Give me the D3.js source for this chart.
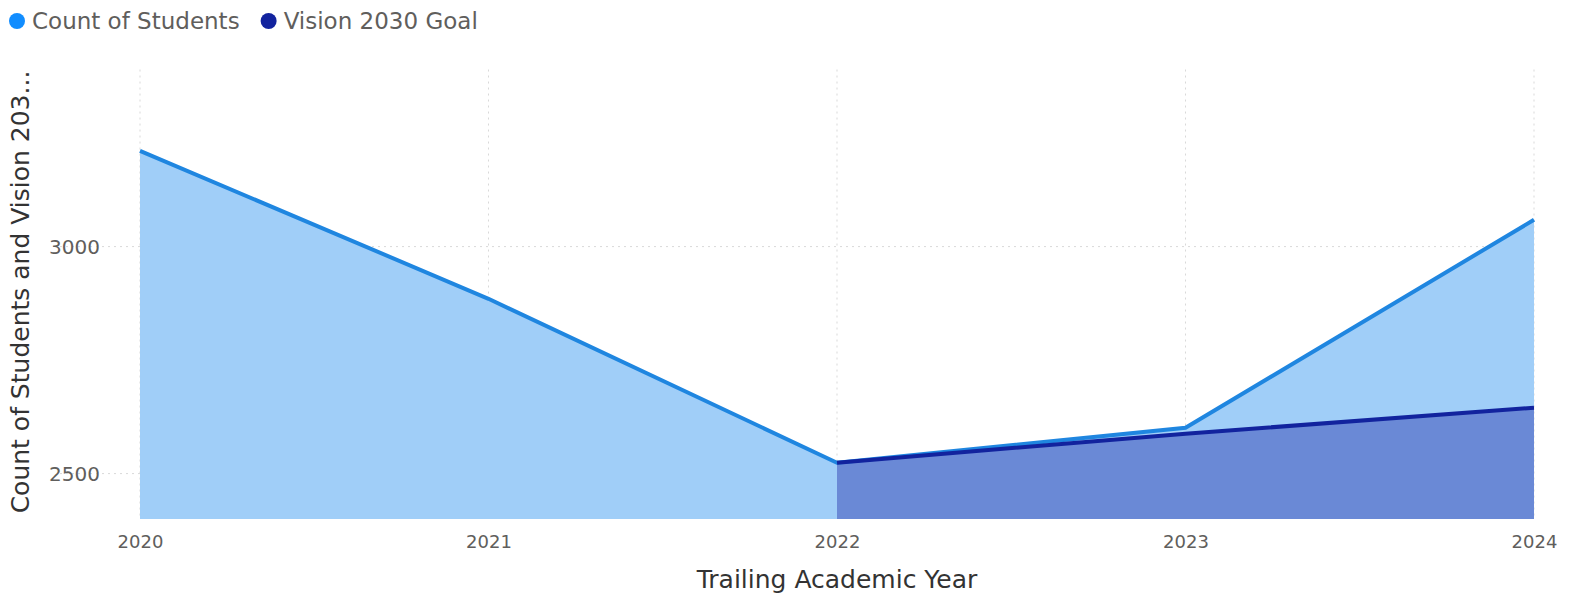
<!DOCTYPE html>
<html>
<head>
    <meta charset="utf-8">
    <title>Count of Students and Vision 2030 Goal</title>
    <script src="https://d3js.org/d3.v7.min.js"></script>
    <style>
        body { margin: 0; background: #fff; }
        text { font-family: "DejaVu Sans", sans-serif; }
        .tick text { fill: #605e5c; font-size: 18px; }
        .y-ticks .tick text { font-size: 20px; }
        .legend-text { fill: #605e5c; font-size: 23px; }
        .axis-title { fill: #333; font-size: 25px; }
    </style>
</head>
<body>
    <div id="chart"></div>
    <script>
	const years = ['2020', '2021', '2022', '2023', '2024'];
	const students = [3211, 2885, 2524, 2601, 3059];
	const goal = [null, null, 2524, 2588, 2645];
	const yTicks = [2500, 3000];

	const width = 1572, height = 602;
	const margin = {top: 65, right: 38, bottom: 83, left: 140};

	const x = d3.scalePoint()
	    .domain(years)
	    .range([margin.left, width - margin.right]);

	const y = d3.scaleLinear()
	    .domain([2400, 3400])
	    .range([height - margin.bottom, margin.top]);

	const svg = d3.select("#chart").append("svg")
	    .attr("width", width)
	    .attr("height", height);

	// gridlines
	svg.append("g")
	    .selectAll("line")
	    .data(yTicks)
	    .enter().append("line")
	        .attr("x1", margin.left - 80)
	        .attr("x2", width - margin.right)
	        .attr("y1", d => y(d))
	        .attr("y2", d => y(d))
	        .attr("stroke", "#d9d9d9")
	        .attr("stroke-dasharray", "2,4");

	svg.append("g")
	    .selectAll("line")
	    .data(years)
	    .enter().append("line")
	        .attr("x1", d => x(d))
	        .attr("x2", d => x(d))
	        .attr("y1", y(3390))
	        .attr("y2", y(2400))
	        .attr("stroke", "#d9d9d9")
	        .attr("stroke-dasharray", "2,4");

	const rowsA = years.map((d, i) => ({year: d, v: students[i]}));
	const rowsB = years.map((d, i) => ({year: d, v: goal[i]})).filter(d => d.v != null);

	const area = d3.area()
	    .x(d => x(d.year))
	    .y0(y(2400))
	    .y1(d => y(d.v));
	const line = d3.line()
	    .x(d => x(d.year))
	    .y(d => y(d.v));

	svg.append("path").datum(rowsA)
	    .attr("d", area)
	    .attr("fill", "#a0cef8");
	svg.append("path").datum(rowsB)
	    .attr("d", area)
	    .attr("fill", "#6a89d6");

	svg.append("path").datum(rowsA)
	    .attr("d", line)
	    .attr("fill", "none")
	    .attr("stroke", "#1f86e0")
	    .attr("stroke-width", 4);
	svg.append("path").datum(rowsB)
	    .attr("d", line)
	    .attr("fill", "none")
	    .attr("stroke", "#12239e")
	    .attr("stroke-width", 4);

	// axes
	const xAxis = svg.append("g")
	    .attr("transform", `translate(0,${height - margin.bottom})`)
	    .call(d3.axisBottom(x).tickSize(0).tickPadding(16));
	xAxis.select(".domain").remove();

	const yAxis = svg.append("g")
	    .attr("class", "y-ticks")
	    .attr("transform", `translate(${margin.left - 40},0)`)
	    .call(d3.axisLeft(y).tickValues(yTicks).tickFormat(d3.format("d")).tickSize(0).tickPadding(0));
	yAxis.select(".domain").remove();

	svg.append("text")
	    .attr("class", "axis-title")
	    .attr("x", x('2022'))
	    .attr("y", 588)
	    .attr("text-anchor", "middle")
	    .text("Trailing Academic Year");

	svg.append("text")
	    .attr("class", "axis-title")
	    .attr("transform", "rotate(-90)")
	    .attr("x", -(margin.top + height - margin.bottom) / 2)
	    .attr("y", 29)
	    .attr("text-anchor", "middle")
	    .text("Count of Students and Vision 203...");

	// legend
	const legend = [{name: "Count of Students", color: "#118dff"}, {name: "Vision 2030 Goal", color: "#12239e"}];
	const lg = svg.append("g").attr("transform", "translate(0,21)");
	let lx = 17;
	legend.forEach(d => {
	    lg.append("circle").attr("cx", lx).attr("cy", 0).attr("r", 8).attr("fill", d.color);
	    const t = lg.append("text").attr("class", "legend-text")
	        .attr("x", lx + 15).attr("y", 8).text(d.name);
	    lx += 15 + t.node().getComputedTextLength() + 29;
	});
	</script>
</body>
</html>
